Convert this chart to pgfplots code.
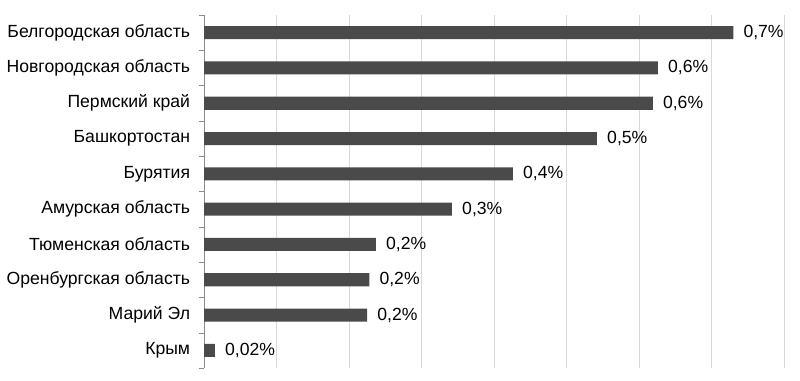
\documentclass[border=0pt]{standalone}
\usepackage{pgfplots}
\pgfplotsset{compat=1.18}
\usepackage{fontspec}
\setmainfont{Liberation Sans}
\definecolor{barc}{HTML}{4A4A4A}
\definecolor{gridc}{HTML}{D9D9D9}
\definecolor{axc}{HTML}{8C8C8C}
\begin{document}
\begin{tikzpicture}
\useasboundingbox (0,0) rectangle (600pt,285.75pt);
\begin{axis}[
  at={(153pt,9.75pt)}, anchor=south west,
  scale only axis, width=435pt, height=264.75pt,
  xbar, bar width=0.37,
  xmin=0, xmax=0.8, ymin=-0.5, ymax=9.5,
  y dir=reverse,
  clip=false,
  axis lines*=left,
  axis line style={-},
  x axis line style={draw=none},
  y axis line style={draw=axc},
  xtick={0,0.1,0.2,0.3,0.4,0.5,0.6,0.7,0.8},
  xticklabels={},
  xmajorgrids,
  major grid style={draw=gridc, line width=0.75pt},
  major x tick style={draw=none},
  ytick={0,1,2,3,4,5,6,7,8,9},
  yticklabels={Белгородская область, Новгородская область, Пермский край, Башкортостан, Бурятия, Амурская область, Тюменская область, Оренбургская область, Марий Эл, Крым},
  major y tick style={draw=none},
  minor ytick={-0.5,0.5,1.5,2.5,3.5,4.5,5.5,6.5,7.5,8.5,9.5},
  minor tick length=4pt,
  minor y tick style={draw=axc},
  tick align=outside,
  yticklabel style={font=\fontsize{13.2}{15}\selectfont, inner sep=0pt, xshift=-6pt},
  point meta=explicit symbolic,
  nodes near coords,
  nodes near coords style={font=\fontsize{13.2}{15}\selectfont, anchor=west, inner sep=0pt, xshift=7.5pt},
]
\addplot[fill=barc, draw=none] coordinates {
  (0.730,0) [0,7\%]
  (0.626,1) [0,6\%]
  (0.619,2) [0,6\%]
  (0.542,3) [0,5\%]
  (0.426,4) [0,4\%]
  (0.342,5) [0,3\%]
  (0.237,6) [0,2\%]
  (0.228,7) [0,2\%]
  (0.225,8) [0,2\%]
  (0.015,9) [0,02\%]
};
\end{axis}
\end{tikzpicture}
\end{document}
